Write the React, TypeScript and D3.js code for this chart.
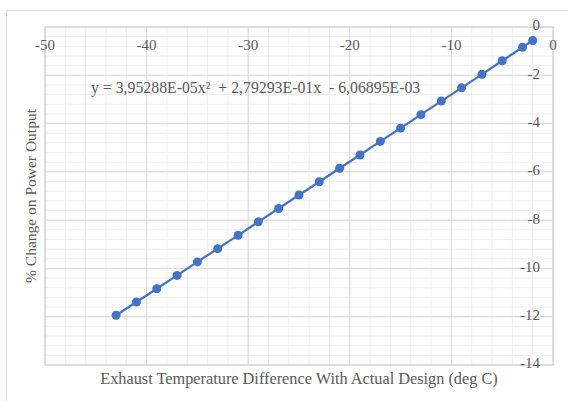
import React, { useEffect, useRef } from 'react';
import * as d3 from 'd3';

// exhaust temperature difference (deg C)
const tempDiff = [-43, -41, -39, -37, -35, -33, -31, -29, -27, -25, -23, -21, -19, -17, -15, -13, -11, -9, -7, -5, -3, -2];
// % change on power output
const powerChange = [-11.94, -11.39, -10.84, -10.29, -9.73, -9.18, -8.63, -8.07, -7.52, -6.96, -6.41, -5.85, -5.3, -4.74, -4.19, -3.63, -3.07, -2.52, -1.96, -1.4, -0.84, -0.56];

const xTicks = [-50, -40, -30, -20, -10, 0];
const yTicks = [0, -2, -4, -6, -8, -10, -12, -14];

const equation = 'y = 3,95288E-05x\u00B2  + 2,79293E-01x  - 6,06895E-03';
const xTitle = 'Exhaust Temperature Difference With Actual Design (deg C)';
const yTitle = '% Change on Power Output';

function App() {
  const ref = useRef<SVGSVGElement>(null);

  const width = 568;
  const height = 401;
  const margin = { top: 27, right: 15, bottom: 36, left: 45 };
  const font = '"Liberation Serif", "Times New Roman", serif';
  const textColor = '#595959';
  const blue = '#4472C4';

  useEffect(() => {
    const svg = d3.select(ref.current);
    svg.selectAll('*').remove();

    const x = d3.scaleLinear().domain([-50, 0]).range([margin.left, width - margin.right]);
    const y = d3.scaleLinear().domain([-14, 0]).range([height - margin.bottom, margin.top]);

    // chart border
    svg.append('rect')
      .attr('x', 6.5).attr('y', 10.5)
      .attr('width', 570).attr('height', 400)
      .attr('fill', '#fff')
      .attr('stroke', '#d9d9d9');

    const g = svg.append('g');

    // minor gridlines
    const xMinor = d3.range(-50, 0.01, 2);
    const yMinor = d3.range(-14, 0.01, 0.4);
    g.selectAll('.xminor').data(xMinor).enter().append('line')
      .attr('x1', (d) => x(d)).attr('x2', (d) => x(d))
      .attr('y1', y(0)).attr('y2', y(-14))
      .attr('stroke', '#eeeeee').attr('stroke-width', 1);
    g.selectAll('.yminor').data(yMinor).enter().append('line')
      .attr('x1', x(-50)).attr('x2', x(0))
      .attr('y1', (d) => y(d)).attr('y2', (d) => y(d))
      .attr('stroke', '#eeeeee').attr('stroke-width', 1);

    // major gridlines
    g.selectAll('.xmajor').data(xTicks).enter().append('line')
      .attr('x1', (d) => x(d)).attr('x2', (d) => x(d))
      .attr('y1', y(0)).attr('y2', y(-14))
      .attr('stroke', '#d9d9d9').attr('stroke-width', 1);
    g.selectAll('.ymajor').data(yTicks).enter().append('line')
      .attr('x1', x(-50)).attr('x2', x(0))
      .attr('y1', (d) => y(d)).attr('y2', (d) => y(d))
      .attr('stroke', '#d9d9d9').attr('stroke-width', 1);

    // plot frame
    g.append('rect')
      .attr('x', x(-50)).attr('y', y(0))
      .attr('width', x(0) - x(-50)).attr('height', y(-14) - y(0))
      .attr('fill', 'none')
      .attr('stroke', '#d0d0d0');

    // tick labels
    svg.selectAll('.xlab').data(xTicks).enter().append('text')
      .attr('x', (d) => x(d))
      .attr('y', y(0) + 20)
      .attr('dominant-baseline', 'middle')
      .attr('text-anchor', 'middle')
      .style('font-family', font).style('font-size', '15px')
      .style('fill', textColor)
      .text((d) => d);

    svg.selectAll('.ylab').data(yTicks).enter().append('text')
      .attr('x', x(0) - 13)
      .attr('y', (d) => y(d))
      .attr('dominant-baseline', 'middle')
      .attr('text-anchor', 'end')
      .style('font-family', font).style('font-size', '15px')
      .style('fill', textColor)
      .text((d) => d);

    // series
    const data = tempDiff.map((t, i) => ({ x: t, y: powerChange[i] }));
    const line = d3.line<{ x: number; y: number }>()
      .x((d) => x(d.x))
      .y((d) => y(d.y));

    svg.append('path')
      .datum(data)
      .attr('d', line)
      .attr('fill', 'none')
      .attr('stroke', blue)
      .attr('stroke-width', 2.25);

    svg.selectAll('.pt').data(data).enter().append('circle')
      .attr('cx', (d) => x(d.x))
      .attr('cy', (d) => y(d.y))
      .attr('r', 4.5)
      .attr('fill', blue);

    // trendline equation
    svg.append('text')
      .attr('x', 91).attr('y', 89)
      .attr('dominant-baseline', 'middle')
      .style('font-family', font).style('font-size', '15.8px')
      .style('fill', textColor)
      .style('white-space', 'pre')
      .text(equation);

    // axis titles
    svg.append('text')
      .attr('x', 299).attr('y', 380)
      .attr('text-anchor', 'middle')
      .attr('dominant-baseline', 'middle')
      .style('font-family', font).style('font-size', '16.3px')
      .style('fill', textColor)
      .text(xTitle);

    svg.append('text')
      .attr('transform', 'translate(32, 196) rotate(-90)')
      .attr('text-anchor', 'middle')
      .attr('dominant-baseline', 'middle')
      .style('font-family', font).style('font-size', '15.5px')
      .style('fill', textColor)
      .text(yTitle);
  }, []);

  return (
    <svg
      ref={ref}
      width={width}
      height={height}
      style={{ position: 'absolute', left: 0, top: 0, display: 'block' }}
    />
  );
}

export default App;
